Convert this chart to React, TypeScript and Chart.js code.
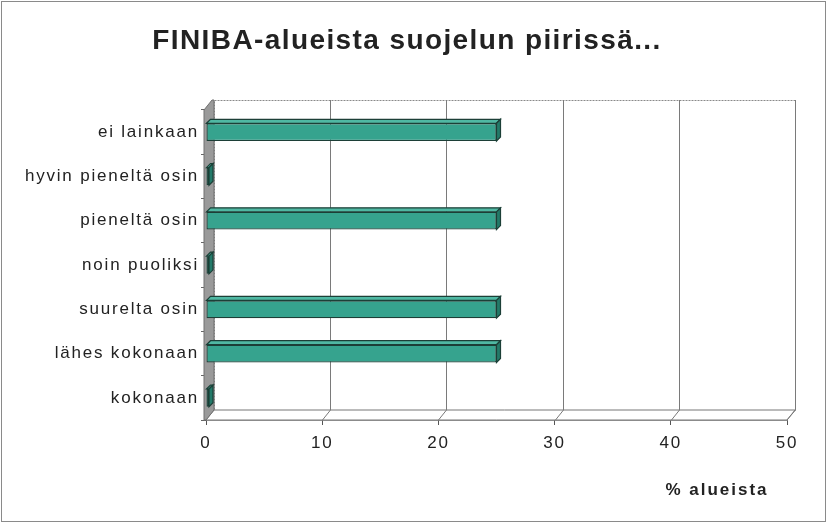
import React, { useEffect, useRef } from "react";
import { Chart, registerables } from "chart.js";

Chart.register(...registerables);

const categories = [
  "ei lainkaan",
  "hyvin pieneltä osin",
  "pieneltä osin",
  "noin puoliksi",
  "suurelta osin",
  "lähes kokonaan",
  "kokonaan",
];
const values = [25, 0, 25, 0, 25, 25, 0];
const xMin = 0;
const xMax = 50;
const xStep = 10;
const titleText = "FINIBA-alueista suojelun piirissä...";
const xTitleText = "% alueista";

const FONT = "'Liberation Sans', Arial, Helvetica, sans-serif";
const DX = 8;
const DY = -10;
const BD = 4;

const threeD = {
  id: "threeD",
  beforeDraw(chart: any) {
    chart.ctx.letterSpacing = "1.8px";
  },
  beforeDatasetsDraw(chart: any) {
    const { ctx, chartArea } = chart;
    const { left, right, top, bottom } = chartArea;
    const xs = chart.scales.x;
    ctx.save();
    // back wall
    ctx.strokeStyle = "#8a8a8a";
    ctx.lineWidth = 1;
    ctx.setLineDash([2, 1]);
    ctx.strokeRect(left + DX + 0.5, top + DY + 0.5, right - left, bottom - top);
    ctx.setLineDash([]);
    // floor
    ctx.beginPath();
    ctx.moveTo(left, bottom);
    ctx.lineTo(right, bottom);
    ctx.lineTo(right + DX, bottom + DY);
    ctx.lineTo(left + DX, bottom + DY);
    ctx.closePath();
    ctx.fillStyle = "#ffffff";
    ctx.fill();
    ctx.strokeStyle = "#777";
    ctx.stroke();
    // gridlines on back wall and floor
    ctx.strokeStyle = "#7a7a7a";
    for (let v = xMin + xStep; v < xMax; v += xStep) {
      const px = Math.round(xs.getPixelForValue(v)) + 0.5;
      ctx.beginPath();
      ctx.moveTo(px + DX, top + DY);
      ctx.lineTo(px + DX, bottom + DY);
      ctx.lineTo(px, bottom);
      ctx.stroke();
    }
    // right edge
    ctx.beginPath();
    ctx.moveTo(right + DX + 0.5, top + DY);
    ctx.lineTo(right + DX + 0.5, bottom + DY);
    ctx.lineTo(right, bottom);
    ctx.stroke();
    // left wall
    ctx.beginPath();
    ctx.moveTo(left - 2, top);
    ctx.lineTo(left + DX - 2, top + DY);
    ctx.lineTo(left + DX, top + DY);
    ctx.lineTo(left + DX, bottom + DY);
    ctx.lineTo(left, bottom);
    ctx.lineTo(left - 2, bottom);
    ctx.closePath();
    ctx.fillStyle = "#9a9a9a";
    ctx.fill();
    ctx.strokeStyle = "#707070";
    ctx.stroke();
    ctx.restore();
  },
  afterDatasetsDraw(chart: any) {
    const { ctx } = chart;
    const meta = chart.getDatasetMeta(0);
    ctx.save();
    ctx.lineWidth = 1.2;
    ctx.strokeStyle = "#1c3f37";
    meta.data.forEach((el: any) => {
      const p = el.getProps(["x", "y", "base", "height"], true);
      const x0 = Math.min(p.x, p.base);
      const x1 = Math.max(p.x, p.base);
      const t = p.y - p.height / 2;
      const b = p.y + p.height / 2;
      // top face
      ctx.beginPath();
      ctx.moveTo(x0, t);
      ctx.lineTo(x0 + BD, t - BD);
      ctx.lineTo(x1 + BD, t - BD);
      ctx.lineTo(x1, t);
      ctx.closePath();
      ctx.fillStyle = "#4fb8a3";
      ctx.fill();
      ctx.stroke();
      // side face
      ctx.beginPath();
      ctx.moveTo(x1, t);
      ctx.lineTo(x1 + BD, t - BD);
      ctx.lineTo(x1 + BD, b - BD);
      ctx.lineTo(x1, b);
      ctx.closePath();
      ctx.fillStyle = "#237a69";
      ctx.fill();
      ctx.stroke();
    });
    ctx.restore();
  },
  afterDraw(chart: any) {
    const { ctx, chartArea } = chart;
    ctx.save();
    ctx.fillStyle = "#222";
    ctx.textAlign = "center";
    ctx.textBaseline = "alphabetic";
    // chart title
    ctx.letterSpacing = "1.4px";
    ctx.font = `bold 28px ${FONT}`;
    ctx.fillText(titleText, 407, 49);
    // x axis title
    ctx.letterSpacing = "2px";
    ctx.font = `bold 17px ${FONT}`;
    ctx.fillText(xTitleText, chartArea.right - 70, 495);
    ctx.letterSpacing = "0px";
    ctx.strokeStyle = "#8a8a8a";
    ctx.lineWidth = 1;
    ctx.strokeRect(1.5, 1.5, chart.width - 3, chart.height - 3);
    ctx.restore();
  },
};

export default function App() {
  const ref = useRef<HTMLCanvasElement | null>(null);
  useEffect(() => {
    if (!ref.current) return;
    const chart = new Chart(ref.current, {
      type: "bar",
      data: {
        labels: categories,
        datasets: [
          {
            data: values,
            backgroundColor: "#36a38e",
            borderColor: "#1c3f37",
            borderWidth: 1.2,
            borderSkipped: false,
            minBarLength: 3,
            barPercentage: 1,
            categoryPercentage: 0.4,
          },
        ],
      },
      options: {
        indexAxis: "y",
        animation: false,
        responsive: false,
        maintainAspectRatio: false,
        layout: { padding: { left: 0, right: 40, top: 110, bottom: 0 } },
        plugins: {
          legend: { display: false },
          tooltip: { enabled: false },
          title: { display: false },
        },
        scales: {
          x: {
            type: "linear",
            min: xMin,
            max: xMax,
            ticks: {
              stepSize: xStep,
              color: "#222",
              font: { family: FONT, size: 17 },
              padding: 8,
            },
            grid: { drawOnChartArea: false, drawTicks: true, tickLength: 5, color: "#555" },
            border: { display: true, color: "#444", width: 1.5 },
            afterFit(scale: any) {
              scale.height = 103;
            },
          },
          y: {
            ticks: {
              color: "#222",
              font: { family: FONT, size: 17 },
              padding: 2,
            },
            grid: { drawOnChartArea: false, drawTicks: true, tickLength: 5, color: "#666" },
            border: { display: false },
            afterFit(scale: any) {
              scale.width = 206;
            },
          },
        },
      },
      plugins: [threeD],
    } as any);
    return () => chart.destroy();
  }, []);
  return (
    <div style={{ position: "absolute", left: 0, top: 0, width: 827, height: 523, background: "#fff" }}>
      <canvas ref={ref} width={827} height={523} style={{ display: "block" }} />
    </div>
  );
}
